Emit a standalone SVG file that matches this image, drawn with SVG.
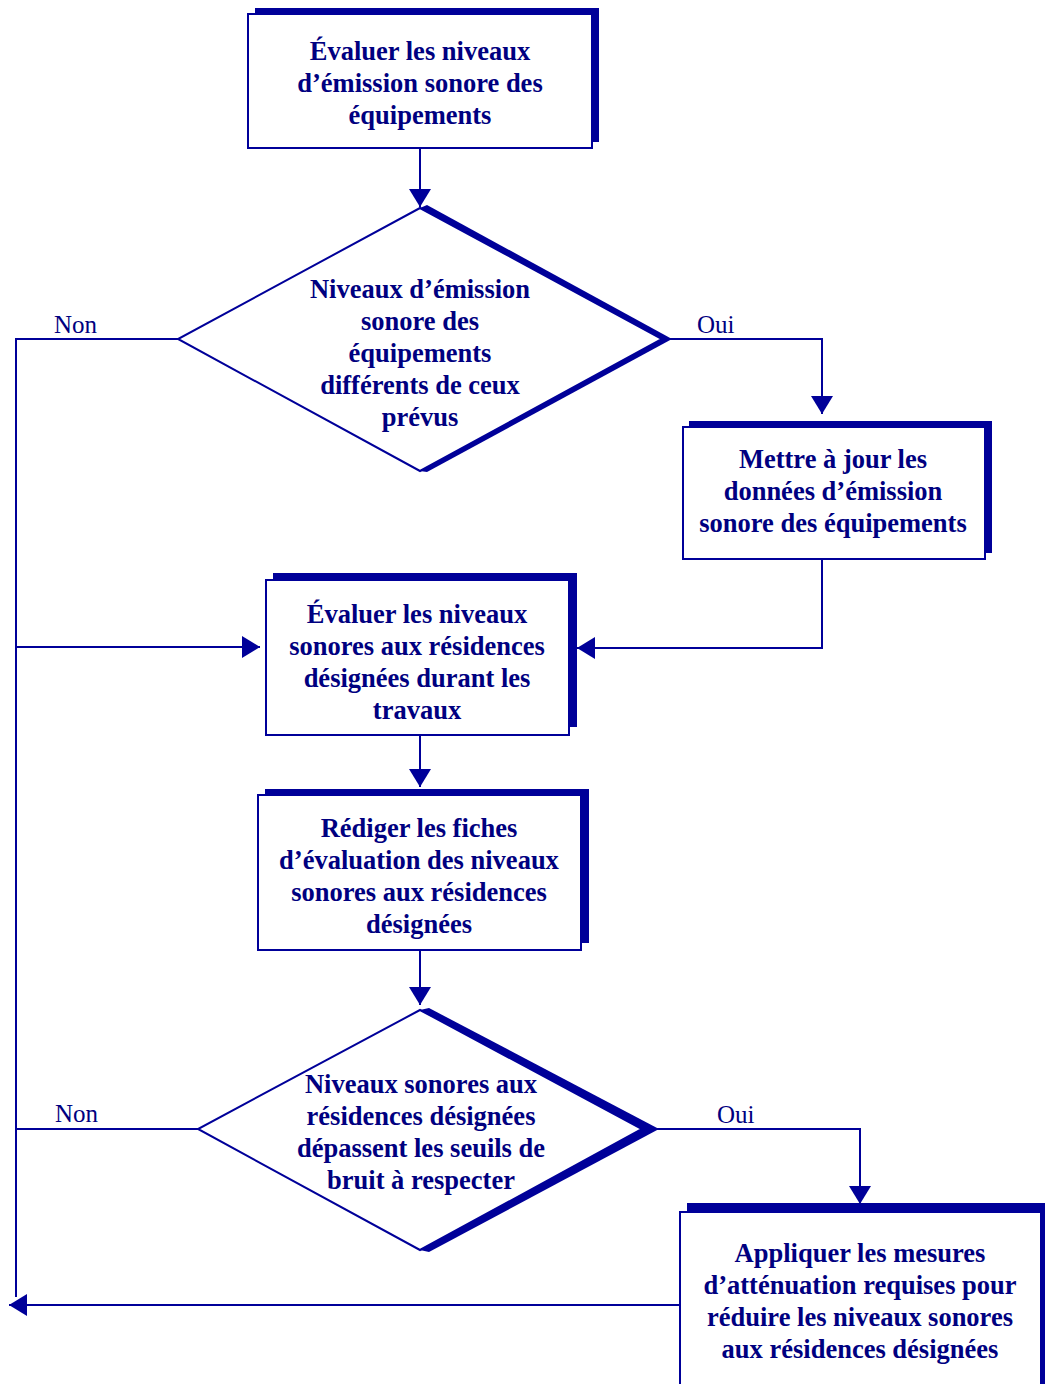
<svg xmlns="http://www.w3.org/2000/svg" width="1045" height="1384" viewBox="0 0 1045 1384">
<defs>
<style>
.box{fill:#ffffff;stroke:#000099;stroke-width:2}
.sh{fill:#000099;stroke:none}
.t{font-family:"Liberation Serif","Times New Roman",serif;font-weight:bold;font-size:26.5px;fill:#000080;text-anchor:middle}
.lb{font-family:"Liberation Serif","Times New Roman",serif;font-size:25px;fill:#000080}
.c{fill:none;stroke:#000099;stroke-width:2}
</style>
<marker id="ah" markerUnits="userSpaceOnUse" markerWidth="20" markerHeight="24" refX="18" refY="11" orient="auto">
<path d="M0,0 L18,11 L0,22 z" fill="#000099"/>
</marker>
</defs>
<rect width="1045" height="1384" fill="#ffffff"/>
<g id="connectors">
<path class="c" d="M420,148 V207" marker-end="url(#ah)"/>
<path class="c" d="M178,339 H16 V1297"/>
<path class="c" d="M16,647 H260" marker-end="url(#ah)"/>
<path class="c" d="M664,339 H822 V414" marker-end="url(#ah)"/>
<path class="c" d="M822,559 V648 H577" marker-end="url(#ah)"/>
<path class="c" d="M420,735 V787" marker-end="url(#ah)"/>
<path class="c" d="M420,950 V1005" marker-end="url(#ah)"/>
<path class="c" d="M198,1129 H16"/>
<path class="c" d="M644,1129 H860 V1204" marker-end="url(#ah)"/>
<path class="c" d="M680,1305 H9" marker-end="url(#ah)"/>
<text class="lb" x="54" y="333">Non</text>
<text class="lb" x="697" y="333">Oui</text>
<text class="lb" x="55" y="1122">Non</text>
<text class="lb" x="717" y="1123">Oui</text>
</g>
<g id="n1">
<rect class="sh" x="255" y="8" width="344" height="134"/>
<rect class="box" x="248" y="14" width="344" height="134"/>
<text class="t" x="420" y="60">Évaluer les niveaux</text>
<text class="t" x="420" y="92">d’émission sonore des</text>
<text class="t" x="420" y="124">équipements</text>
</g>
<g id="d1">
<polygon class="sh" points="427,205 672,339 427,472 420,471 420,208"/>
<polygon class="box" points="420,208 662,339 420,471 178,339"/>
<text class="t" x="420" y="298">Niveaux d’émission</text>
<text class="t" x="420" y="330">sonore des</text>
<text class="t" x="420" y="362">équipements</text>
<text class="t" x="420" y="394">différents de ceux</text>
<text class="t" x="420" y="426">prévus</text>
</g>
<g id="n2">
<rect class="sh" x="689" y="421" width="303" height="132"/>
<rect class="box" x="683" y="427" width="302" height="132"/>
<text class="t" x="833" y="468">Mettre à jour les</text>
<text class="t" x="833" y="500">données d’émission</text>
<text class="t" x="833" y="532">sonore des équipements</text>
</g>
<g id="n3">
<rect class="sh" x="273" y="573" width="304" height="154"/>
<rect class="box" x="266" y="580" width="303" height="155"/>
<text class="t" x="417" y="623">Évaluer les niveaux</text>
<text class="t" x="417" y="655">sonores aux résidences</text>
<text class="t" x="417" y="687">désignées durant les</text>
<text class="t" x="417" y="719">travaux</text>
</g>
<g id="n4">
<rect class="sh" x="265" y="789" width="324" height="154"/>
<rect class="box" x="258" y="795" width="323" height="155"/>
<text class="t" x="419" y="837">Rédiger les fiches</text>
<text class="t" x="419" y="869">d’évaluation des niveaux</text>
<text class="t" x="419" y="901">sonores aux résidences</text>
<text class="t" x="419" y="933">désignées</text>
</g>
<g id="d2">
<polygon class="sh" points="429,1008 659,1129 429,1252 420,1250 420,1010"/>
<polygon class="box" points="420,1010 642,1129 420,1250 198,1129"/>
<text class="t" x="421" y="1093">Niveaux sonores aux</text>
<text class="t" x="421" y="1125">résidences désignées</text>
<text class="t" x="421" y="1157">dépassent les seuils de</text>
<text class="t" x="421" y="1189">bruit à respecter</text>
</g>
<g id="n5">
<rect class="sh" x="687" y="1203" width="360" height="200"/>
<rect class="box" x="680" y="1212" width="361" height="200"/>
<text class="t" x="860" y="1262">Appliquer les mesures</text>
<text class="t" x="860" y="1294">d’atténuation requises pour</text>
<text class="t" x="860" y="1326">réduire les niveaux sonores</text>
<text class="t" x="860" y="1358">aux résidences désignées</text>
</g>
</svg>
